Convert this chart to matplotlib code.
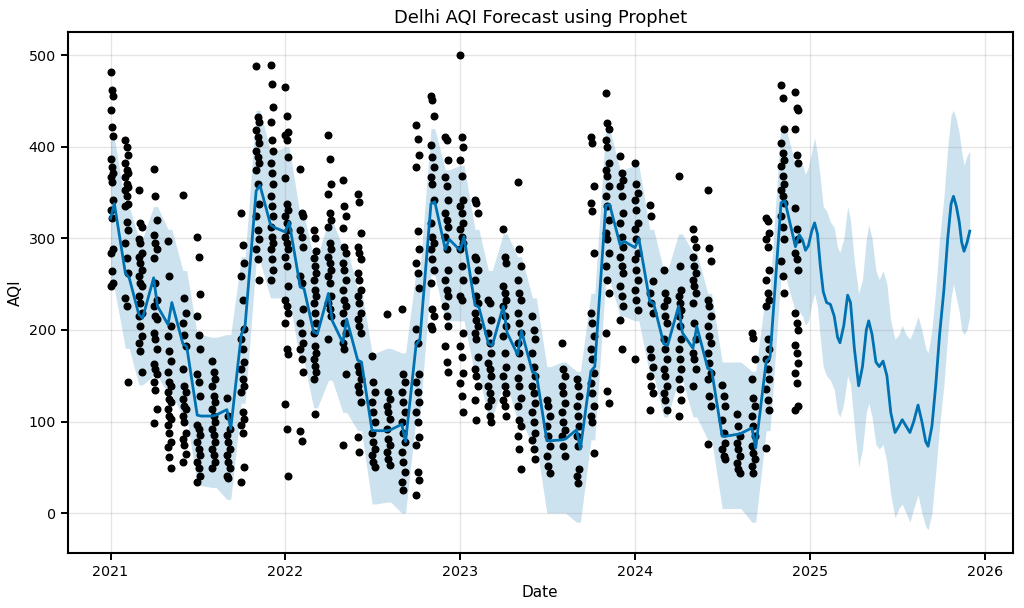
import numpy as np
import pandas as pd
import matplotlib
matplotlib.use("Agg")
import matplotlib.pyplot as plt

# observed AQI readings, one list per month (Jan 2021 .. Dec 2024)
months = pd.date_range("2021-01-01", "2024-12-01", freq="MS")
aqi_obs = [
    # 2021
    [482, 462, 456, 440, 422, 412, 387, 378, 371, 367, 362, 342, 331, 322, 288, 284, 264, 251, 248],
    [408, 400, 391, 382, 375, 371, 367, 360, 356, 353, 346, 338, 335, 318, 309, 295, 279, 262, 235, 226, 143],
    [353, 317, 313, 299, 295, 284, 280, 273, 266, 259, 251, 248, 237, 230, 219, 215, 204, 193, 186, 177, 154],
    [376, 346, 320, 304, 295, 288, 279, 251, 233, 226, 215, 212, 197, 190, 179, 163, 157, 152, 143, 134, 114, 98],
    [297, 259, 204, 193, 177, 166, 154, 143, 139, 132, 125, 121, 114, 106, 103, 96, 88, 78, 72, 61, 49],
    [347, 235, 219, 208, 195, 183, 157, 139, 132, 125, 117, 114, 106, 99, 88, 81, 74, 65, 56],
    [302, 280, 239, 215, 195, 179, 152, 143, 128, 96, 92, 85, 78, 70, 63, 56, 49, 41, 34],
    [166, 154, 146, 139, 128, 121, 114, 106, 99, 92, 85, 78, 70, 63, 56, 49],
    [126, 106, 92, 85, 78, 70, 63, 56, 49, 41, 38],
    [328, 293, 273, 259, 233, 201, 190, 179, 165, 157, 146, 139, 132, 110, 103, 96, 88, 50, 34],
    [488, 433, 427, 418, 411, 404, 396, 389, 382, 375, 360, 338, 324, 309, 299, 288, 277, 255],
    [489, 469, 444, 427, 407, 396, 382, 371, 360, 346, 335, 324, 313, 302, 295, 288, 277, 266, 255],
    # 2022
    [465, 434, 416, 413, 407, 389, 366, 338, 331, 324, 317, 309, 302, 295, 288, 280, 270, 248, 233, 226, 219, 208, 179, 174, 119, 92, 41],
    [376, 328, 324, 309, 302, 291, 259, 251, 223, 208, 197, 186, 179, 168, 154, 90, 79],
    [309, 300, 286, 279, 270, 262, 255, 244, 237, 230, 219, 208, 197, 183, 175, 168, 161, 154, 146, 108],
    [413, 387, 360, 348, 328, 320, 313, 295, 288, 280, 273, 266, 259, 251, 237, 230, 223, 215, 190],
    [364, 335, 324, 311, 291, 284, 273, 266, 255, 244, 233, 226, 219, 208, 197, 186, 179, 152, 74],
    [349, 340, 306, 291, 284, 277, 262, 255, 244, 237, 230, 219, 212, 204, 197, 161, 154, 146, 139, 132, 121, 83, 67],
    [172, 143, 132, 121, 110, 99, 88, 78, 70, 63, 56, 50],
    [217, 132, 125, 117, 110, 103, 92, 81, 74, 67, 59, 52],
    [223, 152, 143, 132, 121, 110, 99, 88, 78, 67, 56, 45, 34, 25],
    [424, 409, 391, 378, 308, 288, 273, 262, 246, 201, 186, 152, 143, 132, 121, 110, 99, 83, 74, 45, 36, 20],
    [456, 451, 434, 402, 389, 378, 367, 360, 342, 317, 302, 295, 288, 277, 266, 251, 223, 215, 204, 201],
    [411, 407, 386, 367, 357, 342, 328, 320, 313, 302, 288, 266, 255, 244, 237, 226, 215, 204, 183, 165, 154],
    # 2023
    [500, 411, 400, 386, 368, 342, 335, 328, 317, 310, 302, 295, 288, 270, 255, 237, 233, 197, 182, 171, 153, 142, 128, 110],
    [342, 339, 328, 280, 277, 266, 255, 237, 230, 219, 211, 204, 197, 190, 171, 157, 150, 139, 124, 102],
    [233, 230, 211, 197, 186, 175, 164, 157, 150, 139, 131, 124, 117, 106, 99],
    [310, 280, 273, 248, 240, 233, 226, 215, 204, 193, 175, 160, 150, 139, 131, 124, 117, 106],
    [362, 288, 270, 255, 240, 233, 219, 208, 197, 186, 175, 160, 148, 139, 126, 117, 102, 95, 84, 70, 48],
    [215, 200, 190, 175, 160, 150, 139, 131, 120, 110, 99, 88, 80, 70, 59],
    [124, 117, 106, 95, 84, 73, 62, 51, 44],
    [186, 157, 150, 139, 131, 120, 110, 99, 91, 84, 73, 62],
    [146, 139, 128, 117, 106, 95, 84, 73, 48, 40, 33],
    [411, 404, 357, 339, 330, 284, 219, 208, 193, 179, 168, 153, 142, 131, 117, 106, 99, 66],
    [459, 426, 419, 408, 400, 382, 375, 368, 357, 346, 335, 320, 306, 299, 284, 270, 255, 240, 197, 133, 120],
    [390, 371, 364, 357, 346, 328, 317, 302, 291, 280, 270, 262, 248, 237, 226, 211, 179],
    # 2024
    [382, 360, 350, 342, 331, 317, 310, 299, 284, 277, 266, 255, 244, 233, 222, 168],
    [337, 324, 253, 240, 230, 219, 179, 171, 160, 150, 139, 131, 113],
    [266, 240, 233, 226, 215, 208, 190, 179, 168, 157, 150, 139, 131, 124, 113],
    [368, 270, 244, 237, 230, 222, 215, 204, 190, 179, 168, 157, 146, 135, 124, 106],
    [310, 299, 291, 280, 270, 262, 255, 248, 240, 230, 208, 190, 175, 168, 157, 139],
    [353, 290, 275, 233, 226, 215, 204, 193, 186, 175, 164, 153, 146, 128, 117, 75],
    [140, 128, 117, 102, 88, 77, 70, 62, 59],
    [108, 95, 84, 77, 70, 62, 55, 48, 44],
    [197, 191, 168, 146, 126, 117, 106, 95, 84, 73, 66, 59, 51, 44],
    [322, 319, 306, 299, 291, 266, 255, 240, 233, 226, 190, 179, 168, 157, 146, 135, 124, 113, 71],
    [468, 453, 420, 404, 393, 386, 379, 368, 360, 353, 346, 339, 324, 313, 299, 275, 259, 240],
    [460, 442, 440, 419, 391, 382, 333, 310, 299, 284, 277, 266, 219, 208, 200, 184, 175, 164, 153, 142, 117, 113],
]

# in-sample fit: value at start and end of each monthly block
fit_start = [322, 262, 217, 257, 206, 185, 107, 106, 113, 195, 352, 315,
             307, 247, 198, 240, 186, 167, 90, 90, 97, 184, 338, 288,
             287, 227, 185, 226, 173, 154, 79, 80, 91, 155, 336, 293,
             290, 231, 185, 226, 180, 158, 84, 86, 93, 166, 339, 291]
fit_end = [338, 257, 213, 226, 230, 182, 106, 107, 92, 205, 358, 312,
           318, 245, 196, 210, 212, 165, 90, 91, 78, 190, 340, 299,
           302, 225, 183, 197, 199, 152, 79, 81, 70, 160, 337, 297,
           300, 229, 183, 197, 204, 156, 84, 87, 71, 170, 341, 304]
band_lo = [245, 180, 140, 150, 130, 105, 30, 28, 15, 120, 275, 235,
           235, 165, 115, 145, 110, 90, 10, 12, 0, 105, 260, 210,
           210, 150, 105, 140, 100, 75, 0, 0, -10, 80, 255, 215,
           210, 150, 105, 145, 105, 80, 5, 5, -10, 90, 260, 220]
band_hi = [410, 335, 300, 335, 310, 265, 195, 192, 195, 280, 440, 395,
           400, 325, 280, 320, 290, 245, 175, 180, 175, 265, 420, 375,
           380, 310, 265, 305, 280, 235, 160, 165, 155, 240, 420, 375,
           380, 310, 265, 305, 285, 240, 165, 165, 155, 245, 425, 380]

# future forecast
fc_dates = ["2024-12-16", "2024-12-22", "2024-12-28", "2025-01-04", "2025-01-10",
            "2025-01-16", "2025-01-22", "2025-01-28", "2025-02-04", "2025-02-12",
            "2025-02-20", "2025-02-27", "2025-03-04", "2025-03-12", "2025-03-20",
            "2025-03-26", "2025-04-03", "2025-04-12", "2025-04-20", "2025-04-28",
            "2025-05-03", "2025-05-10", "2025-05-18", "2025-05-25", "2025-06-02",
            "2025-06-10", "2025-06-18", "2025-06-27", "2025-07-05", "2025-07-12",
            "2025-07-20", "2025-07-28", "2025-08-05", "2025-08-14", "2025-08-22",
            "2025-08-30", "2025-09-04", "2025-09-12", "2025-09-20", "2025-09-28",
            "2025-10-07", "2025-10-15", "2025-10-22", "2025-10-27", "2025-11-02",
            "2025-11-08", "2025-11-13", "2025-11-18", "2025-11-24", "2025-11-30"]
fc_yhat = [298, 287, 292, 308, 317, 305, 270, 242, 230, 228,
           215, 192, 186, 205, 238, 230, 180, 139, 160, 200,
           210, 195, 165, 160, 166, 150, 110, 88, 95, 102,
           95, 88, 100, 118, 100, 78, 73, 95, 140, 195,
           244, 300, 338, 346, 335, 318, 296, 286, 295, 308]
fc_lo = [215, 205, 210, 228, 240, 225, 190, 160, 150, 145,
         135, 110, 105, 120, 150, 140, 95, 50, 70, 110,
         120, 105, 75, 70, 75, 55, 20, -5, 5, 10,
         0, -10, 5, 20, 0, -15, -18, 0, 45, 95,
         140, 195, 235, 250, 235, 220, 200, 195, 200, 215]
fc_hi = [380, 370, 378, 395, 410, 392, 365, 335, 330, 318,
         312, 290, 285, 300, 335, 320, 275, 240, 255, 300,
         315, 300, 265, 255, 265, 250, 210, 190, 195, 205,
         195, 190, 200, 215, 200, 180, 175, 200, 245, 300,
         345, 400, 435, 440, 430, 415, 395, 380, 390, 395]

# points within a month block are spread over its first days
obs_x, obs_y = [], []
for m, vals in zip(months, aqi_obs):
    for i, v in enumerate(vals):
        obs_x.append(m + pd.Timedelta(days=(i * 3) % 9))
        obs_y.append(v)

fit_x, fit_y, lo_y, hi_y = [], [], [], []
for k, m in enumerate(months):
    fit_x += [m, m + pd.Timedelta(days=8)]
    fit_y += [fit_start[k], fit_end[k]]
    lo_y += [band_lo[k], band_lo[k]]
    hi_y += [band_hi[k], band_hi[k]]
fit_x += list(pd.to_datetime(fc_dates))
fit_y += fc_yhat
lo_y += fc_lo
hi_y += fc_hi

fig = plt.figure(figsize=(10.24, 6.08), dpi=100)
ax = fig.add_axes([0.066, 0.09, 0.923, 0.858])

ax.plot(obs_x, obs_y, 'k.', markersize=9.5)
ax.plot(fit_x, fit_y, ls='-', c='#0072B2', lw=2)
ax.fill_between(fit_x, lo_y, hi_y, color='#0072B2', alpha=0.2, lw=0)
ax.grid(True, which='major', c='gray', ls='-', lw=1, alpha=0.2)

ax.set_title('Delhi AQI Forecast using Prophet', fontsize=12.9)
ax.set_xlabel('Date', fontsize=11)
ax.set_ylabel('AQI', fontsize=11)
ax.tick_params(labelsize=10.3, width=1.4, length=5)
for s in ax.spines.values():
    s.set_linewidth(1.5)

fig.savefig('out.png', dpi=100)
